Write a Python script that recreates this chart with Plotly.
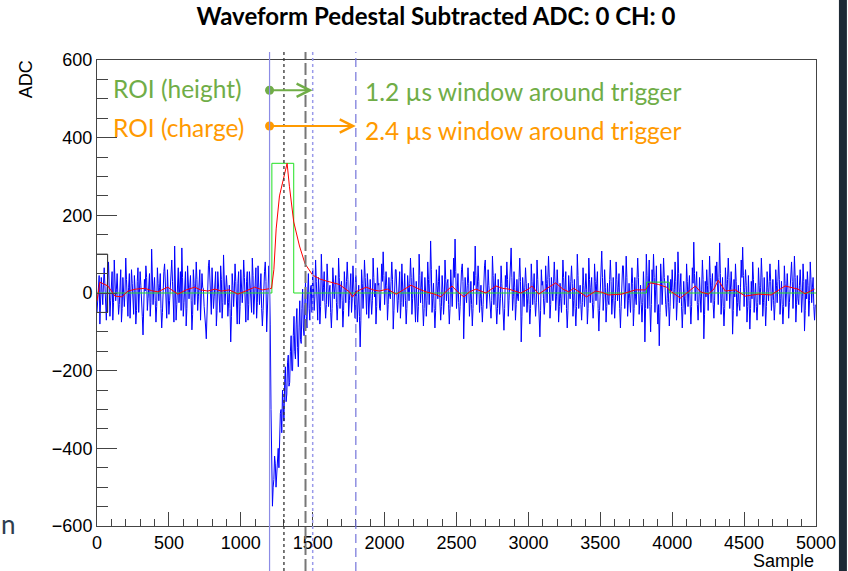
import plotly.graph_objects as go

# ---------------- data ----------------
sample_step = 5

# pedestal-subtracted ADC, one value every 5 samples (20 values per 100 samples)
adc = [
    -50, -15, 20, 45, -80, -35, 40, 5, -30, 25, 65, 20, -45, -70, 10, 35, 80, 15, -60, -20,
    30, 55, -70, -25, 85, 40, -20, 10, 50, -5, -55, -30, 25, 60, -75, -40, 40, 15, -35, 5,
    90, 35, -40, -60, 15, 50, -65, -20, 60, 25, -25, -55, 45, 10, -80, -45, 30, 65, -50, -10,
    55, 20, -10, -60, -108, -30, 35, 5, 70, 40, -45, -15, 20, 50, -60, -25, 113, 45, -30, 10,
    40, -20, -75, -35, 65, 25, -20, 15, 50, -40, -90, -50, 25, 55, 75, 30, -35, -65, 60, 20,
    -55, -20, 15, 45, 85, 30, -40, -75, 121, 50, -70, -30, 30, 65, -25, 10, 55, -45, 116, 40,
    -60, -25, 20, 55, -85, -40, 70, 30, -15, 15, 45, -20, -95, -55, 60, 25, -30, 10, 80, 35,
    -45, -10, 35, 60, -70, -30, 50, 15, 10, -35, -55, -85, -118, -50, 40, 70, 85, 20, -20, -55,
    65, 25, -40, -10, 30, 55, -85, -45, 55, 20, -10, -50, 70, 35, -65, -25, 98, 40, -30, 5,
    45, 15, -60, -25, 20, -40, -126, -60, 50, 20, -35, 5, 75, 30, -50, -80, 25, 55, -80, -35,
    60, 20, -25, 10, 85, 40, -45, -75, 30, 55, -70, -30, 55, 15, -15, -50, 90, 45, -55, -20,
    40, 65, -65, -25, 70, 30, -30, 10, 50, -40, -85, -45, 20, 55, 80, 30, -100, -40, 45, 70,
    20, -80, -300, -460, -549, -500, -480, -420, -440, -500, -470, -410, -400, -450, -370, -310, -300, -360, -250, -290,
    -330, -230, -190, -280, -260, -180, -160, -240, -230, -150, -110, -200, -200, -110, -60, -150, -170, -80, -40, -140,
    -190, -90, -20, -120, -130, -40, 10, -90, -110, -30, 30, -60, -90, 0, 50, -40, -70, 15, 20, -50,
    60, 15, -45, -10, 85, 30, -30, -70, 40, 5, -80, -35, 100, 45, -20, 15, 55, -25, -65, -30,
    75, 30, -35, 5, 20, -50, -90, -40, 65, 25, -15, 20, 45, -25, -70, -30, 90, 40, -40, 10,
    30, -20, -88, -45, 55, 15, -25, 30, 80, 35, -60, -20, 15, 50, -50, -15, 70, 25, -30, -65,
    45, 10, -75, -30, 20, -60, -139, -70, 60, 25, -40, 5, 85, 40, -20, -55, 50, 15, -65, -25,
    35, -15, -55, -20, 90, 40, -10, 25, -80, -35, 65, 20, 25, -40, -45, 10, 75, 30, 106, 45,
    -30, 10, 55, 20, -70, -30, 40, -5, -15, 30, 80, 35, -93, -45, 30, 60, 60, 15, -50, -20,
    20, 55, -65, -25, 75, 30, -35, 5, 50, -20, -80, -40, 45, 15, -20, 25, 90, 40, -55, -15,
    65, 20, -40, -75, 30, -10, -75, -35, 100, 45, -25, 15, 55, -30, -85, -40, 40, 5, -60, -20,
    80, 35, -30, 25, 134, 60, -50, -15, 25, -40, -90, -45, 60, 20, -15, 30, 70, -25, -70, -35,
    45, 10, -55, -20, 85, 35, -20, 25, 35, -30, -80, -40, 60, 15, -35, 20, 90, 40, 139, 55,
    -40, 5, 50, -25, -70, -35, 25, 60, 75, 30, -118, -55, 40, 5, -25, 20, 65, 25, -60, -20,
    30, -30, -85, -40, 55, 20, 121, 45, -30, 15, 70, 30, -50, -15, 20, -35, -75, -30, 45, 70,
    85, 40, -40, -5, 60, 20, -20, -55, -65, -20, 95, 45, -30, 10, 50, -35, -80, -40, 35, -10,
    -55, -15, 70, 25, -25, -60, -96, -40, 45, 15, 80, 35, -60, -20, 20, 55, 116, 40, -45, -10,
    55, 15, -70, -30, 35, -10, -20, 40, 90, 30, -126, -60, 40, 5, -35, 15, 65, 25, -50, -15,
    25, -30, -80, -40, 75, 30, -30, 10, 50, -20, -60, -25, 85, 35, -40, -70, -113, -45, 60, 20,
    30, -15, -55, -20, 70, 25, -25, 35, 95, 40, -65, -30, 40, 5, -20, 25, 80, 30, -45, -10,
    60, 20, -75, -35, 25, -15, -50, 10, 85, 40, -30, 15, 55, -40, -90, -45, 45, 10, -15, 30,
    70, 25, -60, -20, 35, -40, -85, -35, 100, 45, -40, -5, 20, -30, -70, -25, 65, 20, -35, 10,
    50, 10, -80, -40, 90, 35, -25, 15, 40, -25, -65, -30, 75, 30, -20, 25, 55, -40, -98, -45,
    30, 70, 108, 40, -45, -10, 60, 15, -75, -35, 25, -20, -30, 35, 85, 30, -55, -15, 40, -20,
    -65, -20, 80, 35, -20, 15, 50, -40, -90, -35, 35, 70, 70, 20, -40, 5, 95, 40, -60, -20,
    25, -15, -50, 10, 65, 25, -85, -40, 40, -10, -30, 35, 90, 40, -55, -20, 20, -30, -75, -25,
    55, 5, -126, -40, 100, 45, -40, 20, 85, -35, -100, -30, 60, 25, 100, 40, -50, 10, 70, -30,
    -80, -30, -136, -50, 75, 30, -30, 20, 90, 40, 20, -30, -60, -15, 45, -25, -85, -35, 35, 5,
    60, 15, -40, 10, 80, 30, -70, -25, 106, 50, -25, 15, 50, -35, -90, -40, 30, -10, -55, -15,
    75, 30, -35, 10, 45, -30, -80, -35, 65, 25, 131, 50, -20, 20, 55, -30, -70, -25, 40, -10,
    -50, 10, 85, 35, -118, -55, 30, -10, 60, 20, -45, 10, 95, 40, -25, 20, 50, -30, -65, -20,
    70, 30, 80, 25, -30, 40, 129, 50, -55, -15, 40, -35, -85, -40, 65, 25, -20, 35, 90, 40,
    -40, 10, 55, 15, -106, -45, 35, -10, 75, 30, -60, -25, 20, -30, -45, 15, 85, 40, 118, 45,
    -35, 15, 60, 20, -75, -35, 45, -20, -93, -40, 30, -15, 80, 35, -50, -10, 25, -35, -70, -25,
    65, 20, -30, 15, 90, 40, -60, -25, 40, -20, -85, -35, 55, 15, -20, 30, 75, 30, -45, -10,
    35, -20, -70, -30, 60, 20, -25, 30, 85, 35, -55, -15, 30, -30, -80, -35, 70, 25, -35, 5,
    50, 10, -65, -25, 20, 50, 80, 30, -40, 15, 95, 40, -75, -30, 45, -15, -30, 20, 60, 15,
    -50, -10, 75, 30, -98, -45, 35, -15, 55, 20, -60, -20, 80, 35, -25, 15, 40, -35, -70, -30,
]
assert len(adc) == 1000
samples = [i * sample_step for i in range(len(adc))]

# smoothed (inverted) waveform
smooth_x = [0, 20, 76, 125, 173, 215, 270, 333, 380, 423, 492, 562, 620, 680,
            720, 770, 820, 866, 920, 980, 1040, 1096, 1150, 1214, 1230, 1246,
            1269, 1290, 1322, 1338, 1360, 1368, 1408, 1447, 1500, 1550, 1594,
            1640, 1685, 1755, 1777, 1810, 1872, 1920, 1963, 2020, 2080, 2130,
            2184, 2240, 2288, 2340, 2392, 2430, 2469, 2510, 2552, 2590, 2635,
            2705, 2774, 2820, 2864, 2947, 3000, 3024, 3072, 3130, 3190, 3240,
            3280, 3315, 3360, 3405, 3467, 3510, 3557, 3648, 3700, 3745, 3814,
            3849, 3904, 3960, 3995, 4030, 4057, 4112, 4161, 4196, 4251, 4290,
            4320, 4369, 4438, 4508, 4598, 4688, 4740, 4785, 4875, 4924, 4990]
smooth_y = [-20, 28, 18, -8, -10, 5, 10, 12, 6, 3, 15, -3, 8, 15,
            8, 5, 10, 5, 8, -3, 6, 15, 8, 12, 60, 165,
            250, 286, 334, 275, 208, 183, 121, 75, 46, 36, 31,
            26, 22, 3, -10, 5, 15, 8, 5, 10, -3, 8,
            20, 10, 3, -2, -10, 5, 18, 2, -10, 3, 10,
            0, 18, 12, 10, 0, 10, 18, -3, 12, 26, 10,
            3, 12, 0, -10, 5, 2, -5, -3, 3, 8, 8,
            26, 22, 15, 3, -5, -13, 3, 18, 3, -3, 10,
            33, 5, 8, -8, -3, -5, 8, 18, 10, -2, 10]

# ROI histogram (step edges and levels)
roi_edges = [0, 1216, 1368, 3821, 3980, 5000]
roi_levels = [0, 334, 0, 28, 0, 0]

# pedestal window box
ped_box_x = [0, 74, 74, 0]
ped_box_y = [100, 100, -50, -50]

# overlay markers (sample positions)
window_start = 1200
trigger_sample = 1300
late_marker = 1450
height_window_end = 1500
charge_window_end = 1800
height_level = 522
charge_level = 430

x_ticks = list(range(0, 5001, 500))
y_ticks = list(range(-600, 601, 200))

# ---------------- figure ----------------
GREEN = "#70AD47"
ORANGE = "#FF9A00"
AXIS = "#444444"
TICKFONT = dict(family="Liberation Sans, Arial, sans-serif", size=18, color="black")

L, R, T, B, W, H = 97, 30, 60, 45, 848, 571
PW, PH = W - L - R, H - T - B


def xp(px):
    return (px - L) / PW


def yp(py):
    return (H - B - py) / PH


fig = go.Figure()

fig.add_trace(go.Scatter(x=samples, y=adc, mode="lines",
                         line=dict(color="#0000FF", width=1), hoverinfo="skip"))
fig.add_trace(go.Scatter(x=roi_edges, y=roi_levels, mode="lines", line_shape="hv",
                         line=dict(color="#22E022", width=1), hoverinfo="skip"))
fig.add_trace(go.Scatter(x=ped_box_x, y=ped_box_y, mode="lines",
                         line=dict(color="#222222", width=1), hoverinfo="skip"))
fig.add_trace(go.Scatter(x=smooth_x, y=smooth_y, mode="lines",
                         line=dict(color="#FF0000", width=1), hoverinfo="skip"))

# vertical window markers spanning beyond the frame
y0, y1 = yp(571), yp(52)
line_styles = [
    (window_start, "#8C8CE6", 1.2, "solid"),
    (trigger_sample, "#333333", 1.3, "3px,3px"),
    (late_marker, "#777777", 2, "12px,4px"),
    (height_window_end, "#9A9AEA", 1.5, "3px,3px"),
    (charge_window_end, "#7474DA", 1.2, "9px,5px"),
]
for xv, col, wd, dash in line_styles:
    fig.add_shape(type="line", xref="x", yref="paper", x0=xv, x1=xv, y0=y0, y1=y1,
                  line=dict(color=col, width=wd, dash=dash), layer="above")

# dark strip at the right edge
fig.add_shape(type="rect", xref="paper", yref="paper", x0=xp(841), x1=xp(849),
              y0=yp(572), y1=yp(-1), line=dict(width=0), fillcolor="#1E2A36",
              layer="above")

# window arrows with start dots
for end, lvl, col in [(height_window_end, height_level, GREEN),
                      (charge_window_end, charge_level, ORANGE)]:
    fig.add_annotation(x=end, y=lvl, ax=window_start, ay=lvl, xref="x", yref="y",
                       axref="x", ayref="y", text="", showarrow=True,
                       arrowhead=5, arrowsize=1.3, arrowwidth=2, arrowcolor=col)
fig.add_trace(go.Scatter(x=[window_start, window_start], y=[height_level, charge_level],
                         mode="markers", marker=dict(size=9, color=[GREEN, ORANGE]),
                         hoverinfo="skip"))

LABFONT = "Lato, Open Sans, sans-serif"
LABSIZE = 24.5
fig.add_annotation(text="ROI (height)", xref="paper", yref="paper", x=xp(111), y=yp(88),
                   xanchor="left", yanchor="middle", showarrow=False,
                   font=dict(family=LABFONT, size=LABSIZE, color=GREEN))
fig.add_annotation(text="ROI (charge)", xref="paper", yref="paper", x=xp(111), y=yp(127),
                   xanchor="left", yanchor="middle", showarrow=False,
                   font=dict(family=LABFONT, size=LABSIZE, color=ORANGE))
fig.add_annotation(text="1.2 µs window around trigger", xref="paper", yref="paper",
                   x=xp(364), y=yp(91), xanchor="left", yanchor="middle", showarrow=False,
                   font=dict(family=LABFONT, size=LABSIZE, color=GREEN))
fig.add_annotation(text="2.4 µs window around trigger", xref="paper", yref="paper",
                   x=xp(364), y=yp(130), xanchor="left", yanchor="middle", showarrow=False,
                   font=dict(family=LABFONT, size=LABSIZE, color=ORANGE))

# axis titles
fig.add_annotation(text="ADC", xref="paper", yref="paper", x=xp(26), y=yp(79),
                   textangle=-90, xanchor="center", yanchor="middle", showarrow=False,
                   font=TICKFONT)
fig.add_annotation(text="Sample", xref="paper", yref="paper", x=xp(818), y=yp(561),
                   xanchor="right", yanchor="middle", showarrow=False, font=TICKFONT)

# stray slide glyph at the lower left
fig.add_annotation(text="n", xref="paper", yref="paper", x=xp(-1), y=yp(524),
                   xanchor="left", yanchor="middle", showarrow=False,
                   font=dict(family=LABFONT, size=26, color="#2E3D4F"))

fig.update_layout(
    width=W, height=H, autosize=False,
    margin=dict(l=L, r=R, t=T, b=B, pad=0),
    paper_bgcolor="white", plot_bgcolor="white",
    showlegend=False,
    title=dict(text="<b>Waveform Pedestal Subtracted ADC: 0 CH: 0</b>",
               x=436 / W, xref="container", xanchor="center",
               y=1 - 17 / H, yref="container", yanchor="middle",
               font=dict(family="Lato, sans-serif", size=24, color="black")),
    xaxis=dict(range=[0, 5000], autorange=False, tickvals=x_ticks,
               ticks="inside", ticklen=14, tickwidth=1, tickcolor=AXIS,
               minor=dict(dtick=100, tick0=0, ticks="inside", ticklen=7, tickcolor=AXIS),
               showline=True, linecolor=AXIS, linewidth=1, mirror=True,
               showgrid=False, zeroline=False, tickfont=TICKFONT),
    yaxis=dict(range=[-600, 600], autorange=False, tickvals=y_ticks,
               ticks="inside", ticklen=20, tickwidth=1, tickcolor=AXIS,
               minor=dict(dtick=50, tick0=0, ticks="inside", ticklen=11, tickcolor=AXIS),
               showline=True, linecolor=AXIS, linewidth=1, mirror=True,
               showgrid=False, zeroline=False, tickfont=TICKFONT),
)

fig.write_html("out.html")
